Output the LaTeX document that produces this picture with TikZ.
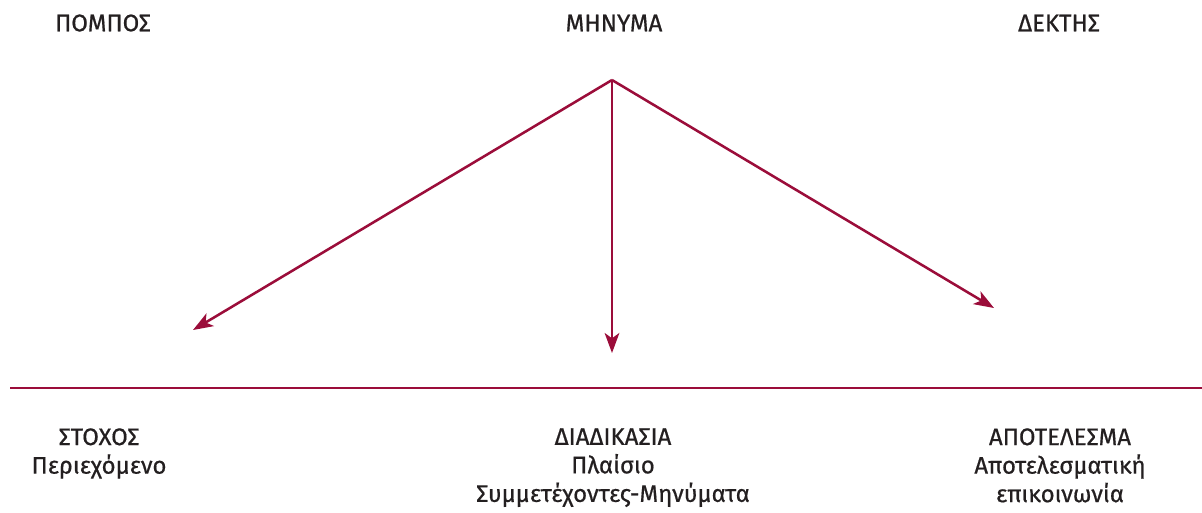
\documentclass[tikz,border=0pt]{standalone}
\usepackage{fontspec}
\setmainfont{Fira Sans}[FakeBold=0.6]
\usetikzlibrary{arrows.meta}
\definecolor{wine}{HTML}{9B0D3A}
\definecolor{ink}{HTML}{231F20}
\tikzset{
  lbl/.style={text=ink, font=\fontsize{18}{21.4}\selectfont, align=center, inner sep=0pt},
  flow/.style={draw=wine, line width=1.9pt, -{Stealth[length=15pt, width=11pt, inset=4pt]}},
  base/.style={draw=wine, line width=1.9pt}
}
\begin{document}
\begin{tikzpicture}[x=0.75pt, y=-0.75pt]
  \useasboundingbox (0,0) rectangle (1202,512);
  % headings
  \node[lbl] (sender)   at (103,23)  {ΠΟΜΠΟΣ};
  \node[lbl] (message)  at (614,23)  {ΜΗΝΥΜΑ};
  \node[lbl] (receiver) at (1059,23) {ΔΕΚΤΗΣ};
  % arrows from the message
  \coordinate (apex) at (612,80);
  \coordinate (tgoal) at (193,330);
  \coordinate (tproc) at (612,353);
  \coordinate (tres)  at (994,308);
  \draw[flow] (apex) -- (tgoal);
  \draw[flow] (apex) -- (tproc);
  \draw[flow] (apex) -- (tres);
  % base line
  \coordinate (bl) at (10,388);
  \coordinate (br) at (1202,388);
  \draw[base] (bl) -- (br);
  % lower captions
  \node[lbl, anchor=north] (goal) at (99,428) {ΣΤΟΧΟΣ\\Περιεχόμενο};
  \node[lbl, anchor=north] (proc) at (613,428) {ΔΙΑΔΙΚΑΣΙΑ\\Πλαίσιο\\Συμμετέχοντες-Μηνύματα};
  \node[lbl, anchor=north] (res)  at (1060,428) {ΑΠΟΤΕΛΕΣΜΑ\\Αποτελεσματική\\επικοινωνία};
\end{tikzpicture}
\end{document}
